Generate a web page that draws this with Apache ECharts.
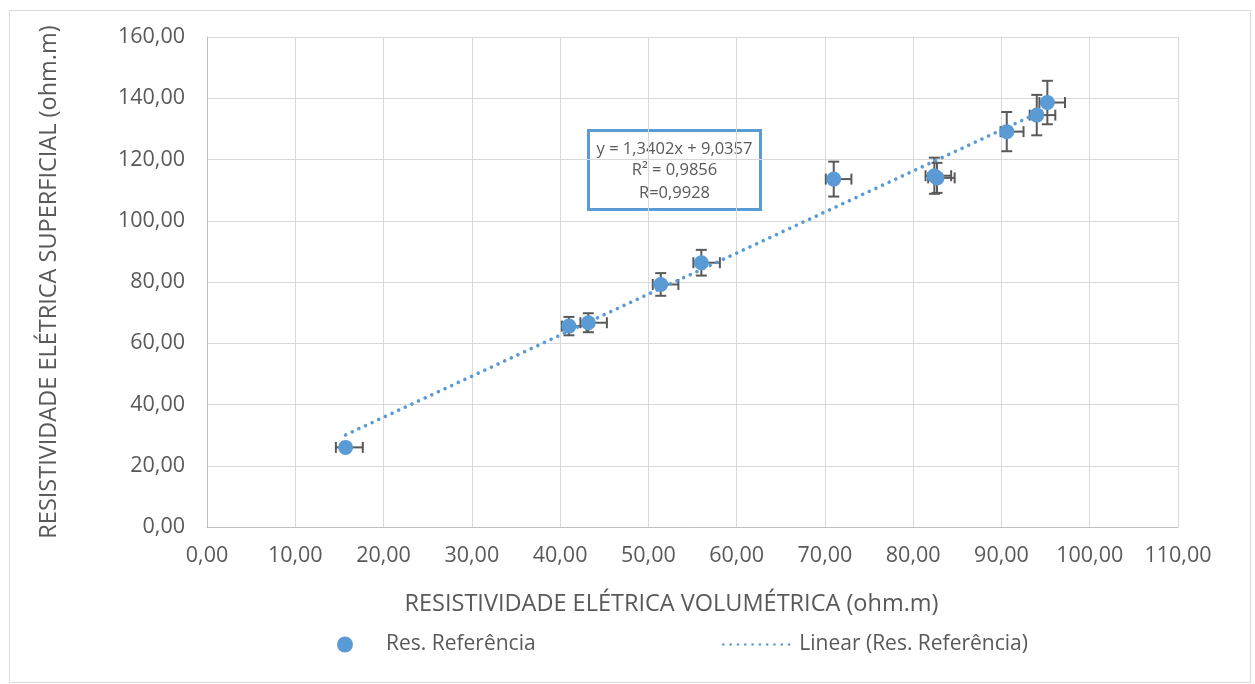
<!DOCTYPE html>
<html>
<head>
<meta charset="utf-8">
<title>Resistividade elétrica</title>
<script src="https://cdn.jsdelivr.net/npm/echarts@6/dist/echarts.min.js"></script>
<style>
  html, body { margin: 0; padding: 0; background: #ffffff; }
  #chart { width: 1255px; height: 684px; }
</style>
</head>
<body>
<div id="chart"></div>
<script>
// Resistividade volumétrica (x) e superficial (y), ohm.m
const volumetrica = [15.7, 41.0, 43.2, 51.4, 56.0, 71.0, 82.4, 82.7, 90.6, 94.0, 95.2];
const superficial = [26.0, 65.6, 66.7, 79.2, 86.3, 113.6, 114.7, 114.0, 129.1, 134.5, 138.6];
// Barras de erro
const erroY      = [0.0, 3.0, 3.1, 3.7, 4.2, 5.7, 5.9, 4.9, 6.4, 6.6, 7.1];
const erroXMenos = [1.1, 0.8, 0.9, 0.9, 0.9, 0.9, 1.0, 1.0, 0.7, 0.8, 0.9];
const erroXMais  = [1.95, 2.0, 2.1, 2.0, 2.1, 2.0, 1.9, 2.0, 1.9, 2.1, 2.0];
// Linha de tendência (regressão linear)
const inclinacao = 1.3402;
const intercepto = 9.0357;
const r2 = '0,9856';
const r = '0,9928';
// Eixos
const xMax = 110, xStep = 10;
const yMax = 160, yStep = 20;
const nomeSerie = 'Res. Referência';
const nomeTendencia = 'Linear (Res. Referência)';
const tituloX = 'RESISTIVIDADE ELÉTRICA VOLUMÉTRICA (ohm.m)';
const tituloY = 'RESISTIVIDADE ELÉTRICA SUPERFICIAL (ohm.m)';

const FONT = 'Open Sans';
const TXT = '#595959';
const AZUL = '#5B9BD5';
const fmt = v => v.toFixed(2).replace('.', ',');
const fmt4 = v => v.toFixed(4).replace('.', ',');

const pontos = volumetrica.map((x, i) => [x, superficial[i]]);
const barras = volumetrica.map((x, i) => [x, superficial[i], erroY[i], erroXMenos[i], erroXMais[i]]);
const x0 = Math.min(...volumetrica), x1 = Math.max(...volumetrica);
const tendencia = [[x0, inclinacao * x0 + intercepto], [x1, inclinacao * x1 + intercepto]];
const equacao = 'y = ' + fmt4(inclinacao) + 'x + ' + fmt4(intercepto);

// Barras de erro horizontais (assimétricas) e verticais, com terminais
function desenhaErro(params, api) {
  const x = api.value(0), y = api.value(1), ey = api.value(2), exm = api.value(3), exp = api.value(4);
  const c = api.coord([x, y]);
  const cap = 5.5;
  const st = { stroke: '#595959', lineWidth: 2 };
  const els = [];
  const pL = api.coord([x - exm, y]), pR = api.coord([x + exp, y]);
  els.push({ type: 'line', shape: { x1: pL[0], y1: c[1], x2: pR[0], y2: c[1] }, style: st });
  els.push({ type: 'line', shape: { x1: pL[0], y1: c[1] - cap, x2: pL[0], y2: c[1] + cap }, style: st });
  els.push({ type: 'line', shape: { x1: pR[0], y1: c[1] - cap, x2: pR[0], y2: c[1] + cap }, style: st });
  if (ey > 0) {
    const pT = api.coord([x, y + ey]), pB = api.coord([x, y - ey]);
    els.push({ type: 'line', shape: { x1: c[0], y1: pT[1], x2: c[0], y2: pB[1] }, style: st });
    els.push({ type: 'line', shape: { x1: c[0] - cap, y1: pT[1], x2: c[0] + cap, y2: pT[1] }, style: st });
    els.push({ type: 'line', shape: { x1: c[0] - cap, y1: pB[1], x2: c[0] + cap, y2: pB[1] }, style: st });
  }
  return { type: 'group', children: els };
}

const txtCaixa = '16.5px "' + FONT + '"';
const chart = echarts.init(document.getElementById('chart'), null, { renderer: 'canvas' });
chart.setOption({
  animation: false,
  backgroundColor: '#ffffff',
  textStyle: { fontFamily: FONT, color: TXT },
  grid: { left: 207, right: 77, top: 37, bottom: 157, containLabel: false },
  xAxis: {
    type: 'value', min: 0, max: xMax, interval: xStep,
    name: tituloX, nameLocation: 'middle', nameGap: 65,
    nameTextStyle: { fontFamily: FONT, fontSize: 23.5, color: TXT, padding: [0, 42, 0, 0] },
    axisLine: { show: true, lineStyle: { color: '#bfbfbf', width: 1 } },
    axisTick: { show: false },
    axisLabel: { formatter: fmt, fontFamily: FONT, fontSize: 21.5, color: TXT, margin: 18 },
    splitLine: { show: true, lineStyle: { color: '#d9d9d9', width: 1 } }
  },
  yAxis: {
    type: 'value', min: 0, max: yMax, interval: yStep,
    name: tituloY, nameLocation: 'middle', nameGap: 146,
    nameTextStyle: { fontFamily: FONT, fontSize: 23.5, color: TXT },
    axisLine: { show: true, lineStyle: { color: '#bfbfbf', width: 1 } },
    axisTick: { show: false },
    axisLabel: { formatter: fmt, fontFamily: FONT, fontSize: 21.5, color: TXT, margin: 22 },
    splitLine: { show: true, lineStyle: { color: '#d9d9d9', width: 1 } }
  },
  legend: [
    {
      left: 332, top: 629, itemWidth: 16, itemHeight: 16, itemGap: 0, padding: 5,
      data: [{ name: nomeSerie, icon: 'circle' }],
      textStyle: { fontFamily: FONT, fontSize: 21, color: TXT, padding: [0, 0, 0, 28] }
    },
    {
      left: 717, top: 629, itemWidth: 73, itemHeight: 16, itemGap: 0, padding: 5,
      data: [{ name: nomeTendencia }],
      itemStyle: { opacity: 0 },
      lineStyle: { width: 2.6 },
      textStyle: { fontFamily: FONT, fontSize: 21, color: TXT, padding: [0, 0, 0, -2] }
    }
  ],
  series: [
    {
      type: 'custom', name: 'erro', renderItem: desenhaErro,
      data: barras, encode: { x: 0, y: 1 }, z: 2, silent: true
    },
    {
      type: 'scatter', name: nomeSerie, data: pontos,
      symbol: 'circle', symbolSize: 15,
      itemStyle: { color: AZUL, opacity: 1 }, z: 3
    },
    {
      type: 'line', name: nomeTendencia, data: tendencia,
      showSymbol: false, symbol: 'none',
      lineStyle: { color: AZUL, width: 3.6, type: [0.01, 7.3], cap: 'round' },
      itemStyle: { color: AZUL }, z: 4
    }
  ],
  graphic: [
    {
      type: 'rect', left: 7, top: 8, z: -10, silent: true,
      shape: { width: 1241, height: 672 },
      style: { fill: 'none', stroke: '#d9d9d9', lineWidth: 1 }
    },
    {
      type: 'group', left: 587, top: 129, z: 100,
      children: [
        { type: 'rect', shape: { x: 0, y: 0, width: 172, height: 79 },
          style: { fill: '#ffffff', stroke: AZUL, lineWidth: 3 } },
        { type: 'text', x: 86, y: 19, style: { text: equacao, font: txtCaixa, fill: TXT, textAlign: 'center', textVerticalAlign: 'middle' } },
        { type: 'text', x: 86, y: 40, style: { text: 'R² = ' + r2, font: txtCaixa, fill: TXT, textAlign: 'center', textVerticalAlign: 'middle' } },
        { type: 'text', x: 86, y: 63, style: { text: 'R=' + r, font: txtCaixa, fill: TXT, textAlign: 'center', textVerticalAlign: 'middle' } }
      ]
    }
  ]
});
</script>
</body>
</html>
